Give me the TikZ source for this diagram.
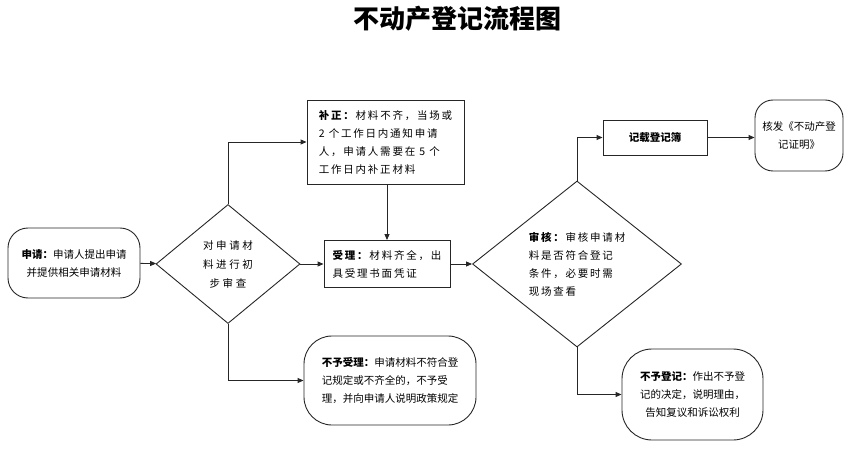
\documentclass[tikz,border=0pt]{standalone}
\usepackage{fontspec}
\setmainfont{Noto Sans CJK SC}
\usetikzlibrary{shapes.geometric, arrows.meta}

\newcommand{\wide}{\addfontfeature{LetterSpace=17}}
\newcommand{\wider}{\addfontfeature{LetterSpace=24}}

\tikzset{
  txt/.style={font=\fontsize{10.5pt}{18pt}\selectfont},
  widetxt/.style={font=\fontsize{10.5pt}{18pt}\selectfont\wide},
  box/.style={txt, draw=black!85, line width=0.9pt, rectangle, inner sep=0pt},
  roundbox/.style={box, rounded corners=#1},
  decision/.style={txt, draw=black!85, line width=0.9pt, diamond, inner sep=0pt},
  arr/.style={draw=black!85, line width=0.9pt, -{Triangle[length=6pt,width=5pt]}}
}

\begin{document}
\begin{tikzpicture}[x=1pt, y=-1pt]
\useasboundingbox (0,0) rectangle (859,454);

\node[font=\fontsize{26pt}{26pt}\selectfont\bfseries] (title) at (457,19) {不动产登记流程图};

% left part
\node[roundbox=20pt, minimum width=132pt, minimum height=70pt, align=center] (apply) at (74,263)
  {\textbf{申请：}申请人提出申请\\并提供相关申请材料};
\node[decision, font=\fontsize{10.5pt}{19pt}\selectfont\wider, minimum width=144pt, minimum height=119pt, align=center] (check) at (228,264)
  {对申请材\\料进行初\\步审查};
\node[box, widetxt, minimum width=157pt, minimum height=84pt, align=left] (fix) at (385.5,142)
  {\textbf{补正：}材料不齐，当场或\\2 个工作日内通知申请\\人，申请人需要在 5 个\\工作日内补正材料};
\node[box, widetxt, minimum width=126pt, minimum height=47pt, align=left] (accept) at (387,264)
  {\textbf{受理：}材料齐全，出\\具受理书面凭证};
\node[roundbox=28pt, minimum width=172pt, minimum height=89pt, align=left] (reject) at (390,380.5)
  {\textbf{不予受理：}申请材料不符合登\\记规定或不齐全的，不予受\\理，并向申请人说明政策规定};

% right part
\node[decision, widetxt, minimum width=209pt, minimum height=166pt, align=left] (review) at (577,264)
  {\textbf{审核：}审核申请材\\料是否符合登记\\条件，必要时需\\现场查看};
\node[box, minimum width=104pt, minimum height=35pt] (record) at (655,137.5)
  {\textbf{记载登记簿}};
\node[roundbox=18pt, minimum width=88pt, minimum height=71pt, align=center] (issue) at (799,135.5)
  {核发《不动产登\\记证明》};
\node[roundbox=30pt, minimum width=141pt, minimum height=91pt, align=center] (deny) at (692.5,394.5)
  {\textbf{不予登记：}作出不予登\\记的决定，说明理由，\\告知复议和诉讼权利};

% arrows
\draw[arr] (apply) -- (check);
\draw[arr] (check.north) |- (fix.west);
\draw[arr] (fix.south -| accept.north) -- (accept.north);
\draw[arr] (check) -- (accept);
\draw[arr] (check.south) |- (reject.west);
\draw[arr] (accept) -- (review);
\draw[arr] (review.north) |- (record.west);
\draw[arr] (record.east) -- (record.east -| issue.west);
\draw[arr] (review.south) |- (deny.west);

\end{tikzpicture}
\end{document}
